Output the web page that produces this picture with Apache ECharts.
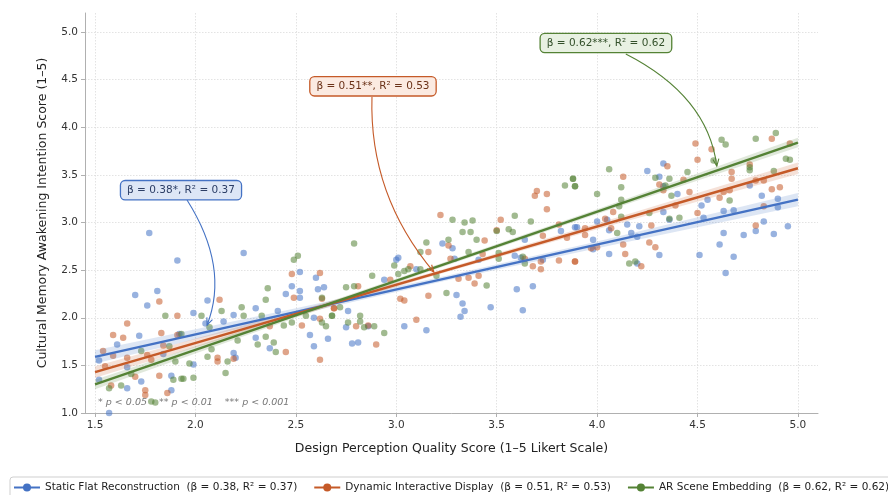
<!DOCTYPE html>
<html>
<head>
<meta charset="utf-8">
<script src="https://cdn.jsdelivr.net/npm/echarts@6/dist/echarts.min.js"></script>
<style>html,body{margin:0;padding:0;background:#fff}#c{width:888px;height:495px}</style>
</head>
<body>
<div id="c"></div>
<script>
// ---------- data ----------
const xTicks = [1.5, 2.0, 2.5, 3.0, 3.5, 4.0, 4.5, 5.0];
const yTicks = [1.0, 1.5, 2.0, 2.5, 3.0, 3.5, 4.0, 4.5, 5.0];
const seriesNames = [
  'Static Flat Reconstruction  (β = 0.38, R² = 0.37)',
  'Dynamic Interactive Display  (β = 0.51, R² = 0.53)',
  'AR Scene Embedding  (β = 0.62, R² = 0.62)'
];
const annotTexts = ['β = 0.38*, R² = 0.37', 'β = 0.51**, R² = 0.53', 'β = 0.62***, R² = 0.62'];
const footnote = '* p < 0.05    ** p < 0.01    *** p < 0.001';

const staticPts = [
  [1.77,2.89],[2.24,2.68],[1.91,2.60],[1.70,2.24],[1.81,2.28],[1.76,2.13],[1.99,2.05],[2.06,2.18],
  [1.72,1.81],[1.61,1.72],[1.52,1.55],[1.52,1.35],[1.66,1.48],[1.73,1.33],[1.66,1.26],[1.57,1.00],
  [1.88,1.39],[1.88,1.24],[1.99,1.51],[2.05,1.94],[2.14,1.96],[2.19,1.63],[2.20,1.58],[2.19,2.03],
  [2.30,2.10],[2.30,1.79],[2.41,2.07],[2.37,1.68],[2.45,2.25],[2.48,2.33],[2.52,2.21],[2.52,2.48],
  [2.52,2.28],[2.60,2.42],[2.61,2.30],[2.64,2.32],[2.59,2.00],[2.57,1.82],[2.59,1.70],[2.66,1.78],
  [1.92,1.83],[1.84,1.62],
  [3.00,2.61],[3.01,2.63],[2.94,2.40],[3.23,2.78],[3.28,2.73],[3.29,2.62],[3.10,2.51],[3.30,2.24],
  [3.33,2.15],[3.34,2.07],[3.32,2.01],[3.47,2.11],[3.41,2.61],[3.59,2.65],[3.62,2.63],[3.64,2.82],
  [3.60,2.30],[3.68,2.33],[3.63,2.08],[3.73,2.61],[3.82,2.91],[3.90,2.95],[2.76,2.07],[2.75,1.90],
  [2.78,1.73],[2.81,1.74],[3.04,1.91],[3.15,1.87],[2.86,1.91],
  [4.25,3.54],[4.33,3.62],[4.31,3.48],[4.33,3.38],[4.40,3.30],[4.55,3.24],[4.52,3.18],[4.36,3.03],
  [4.33,3.11],[4.53,3.05],[4.63,3.12],[4.68,3.13],[4.76,3.39],[4.82,3.28],[4.90,3.25],[4.90,3.16],
  [4.83,3.01],[4.79,2.91],[4.88,2.88],[4.95,2.96],[4.73,2.87],[4.63,2.89],[4.61,2.77],[4.68,2.64],
  [4.64,2.47],[4.51,2.66],[4.31,2.66],[4.20,2.57],[4.21,2.96],[4.20,2.85],[4.17,2.89],[4.15,2.98],
  [4.05,3.03],[4.06,2.92],[4.00,3.01],[4.06,2.67],[3.98,2.82],[3.98,2.72],[3.89,2.95]
];
const dynamicPts = [
  [1.82,2.17],[1.66,1.94],[1.59,1.82],[1.64,1.79],[1.54,1.65],[1.59,1.60],[1.66,1.58],[1.76,1.61],
  [1.78,1.56],[1.83,1.84],[1.84,1.71],[1.91,1.82],[1.91,2.02],[1.55,1.49],[1.70,1.38],[1.82,1.39],
  [1.75,1.24],[1.75,1.19],[1.86,1.21],[1.58,1.29],[2.12,2.19],[2.11,1.58],[2.11,1.54],[2.19,1.57],
  [2.45,1.64],[2.53,1.92],[2.48,2.46],[2.49,2.21],[2.62,2.47],[2.63,2.20],[2.62,1.56],[2.69,2.10],
  [2.62,1.99],[2.37,1.91],
  [3.22,3.08],[3.52,3.03],[3.50,2.92],[3.69,3.28],[3.70,3.33],[3.75,3.30],[3.75,3.14],[3.44,2.81],
  [3.43,2.67],[3.26,2.76],[3.16,2.69],[3.07,2.54],[3.27,2.62],[2.97,2.40],[2.81,2.33],[2.69,2.10],
  [3.02,2.20],[3.04,2.18],[3.16,2.23],[3.31,2.41],[3.36,2.42],[3.41,2.44],[3.39,2.36],[3.10,1.98],
  [2.90,1.72],[2.80,1.91],[2.86,1.92],[3.68,2.54],[3.72,2.51],[3.72,2.59],[3.81,2.60],[3.89,2.59],
  [3.64,2.62],[3.73,2.86],[3.85,2.84],[3.81,2.98],
  [4.49,3.83],[4.50,3.66],[4.57,3.77],[4.87,3.88],[4.96,3.83],[4.35,3.59],[4.13,3.48],[4.67,3.53],
  [4.67,3.46],[4.76,3.61],[4.31,3.40],[4.33,3.34],[4.43,3.45],[4.46,3.32],[4.61,3.26],[4.63,3.32],
  [4.66,3.34],[4.79,3.44],[4.83,3.44],[4.87,3.35],[4.91,3.37],[4.39,3.18],[4.50,3.10],[4.83,3.17],
  [4.79,2.97],[4.27,2.97],[4.26,2.79],[4.29,2.74],[4.08,3.11],[4.04,3.04],[4.07,2.94],[4.13,2.77],
  [4.14,2.67],[4.22,2.54],[3.94,2.94],[3.94,2.87],[3.97,2.73],[4.00,2.74],[3.89,2.59]
];
const arPts = [
  [1.85,2.02],[1.93,1.83],[1.73,1.65],[1.87,1.70],[1.90,1.54],[1.97,1.52],[1.89,1.35],[1.93,1.36],
  [1.94,1.36],[1.99,1.37],[1.63,1.29],[1.57,1.26],[1.68,1.41],[1.78,1.12],[1.80,1.11],[2.03,2.02],
  [2.07,1.90],[2.13,2.07],[2.23,2.11],[2.24,2.02],[2.36,2.31],[2.35,2.19],[2.33,2.02],[2.35,1.80],
  [2.31,1.72],[2.39,1.74],[2.40,1.64],[2.06,1.59],[2.08,1.67],[2.15,1.42],[2.16,1.54],[2.21,1.76],
  [2.44,1.92],[2.48,1.95],[2.49,2.61],[2.51,2.65],[2.55,2.02],[2.63,2.21],[2.63,1.95],[2.65,1.91],
  [2.68,2.02],
  [2.79,2.78],[3.28,3.03],[3.34,3.00],[3.38,3.02],[3.33,2.90],[3.37,2.90],[3.40,2.82],[3.26,2.82],
  [3.15,2.79],[3.12,2.69],[3.36,2.69],[3.50,2.91],[3.56,2.93],[3.58,2.90],[3.59,3.07],[3.67,3.01],
  [3.84,3.39],[3.88,3.46],[3.89,3.38],[3.51,2.68],[3.51,2.62],[3.63,2.64],[3.64,2.57],[2.99,2.55],
  [3.01,2.46],[3.04,2.49],[3.06,2.51],[3.12,2.51],[2.88,2.44],[2.75,2.32],[2.79,2.33],[3.20,2.44],
  [3.25,2.26],[3.45,2.34],[2.82,2.02],[2.82,1.96],[2.76,1.95],[2.84,1.90],[2.89,1.91],[2.94,1.84],
  [2.72,2.11],[2.68,2.02],
  [4.62,3.87],[4.64,3.82],[4.79,3.88],[4.89,3.94],[4.94,3.67],[4.96,3.66],[4.58,3.65],[4.45,3.53],
  [4.06,3.56],[3.88,3.46],[3.89,3.38],[4.29,3.47],[4.36,3.46],[4.34,3.39],[4.12,3.37],[4.00,3.30],
  [4.12,3.24],[4.11,3.17],[4.37,3.28],[4.66,3.23],[4.76,3.58],[4.76,3.55],[4.88,3.54],[4.12,3.06],
  [4.26,3.10],[4.36,3.04],[4.41,3.05],[4.10,2.89],[4.16,2.57],[4.19,2.59]
];
// fitted lines (endpoints) and confidence bands [x, lower, upper]
const staticFit = [[1.5,1.59],[5.0,3.24]];
const dynamicFit = [[1.5,1.43],[5.0,3.57]];
const arFit = [[1.5,1.30],[5.0,3.84]];
const staticBand = [[1.5,1.52,1.66],[2.5,2.03,2.10],[3.25,2.39,2.44],[4.0,2.73,2.80],[5.0,3.17,3.31]];
const dynamicBand = [[1.5,1.37,1.49],[2.5,2.01,2.07],[3.25,2.48,2.52],[4.0,2.93,2.99],[5.0,3.51,3.63]];
const arBand = [[1.5,1.25,1.35],[2.5,2.00,2.05],[3.25,2.55,2.59],[4.0,3.09,3.14],[5.0,3.79,3.89]];

// ---------- styles ----------
const colors = ['#4472C4', '#C55A28', '#548235'];
const boxFills = ['#dde6f6', '#fbeae1', '#e8f1e2'];
const textCols = ['#2c3e66', '#6b3218', '#33502a'];
// annotation geometry in data coords: box centre, arrow start, control, tip
const annots = [
  {box:[1.928,3.34], start:[1.958,3.236], ctrl:[2.17,2.53], tip:[2.058,1.924]},
  {box:[2.884,4.43], start:[2.879,4.318], ctrl:[2.864,3.29], tip:[3.187,2.48]},
  {box:[4.044,4.885], start:[4.143,4.769], ctrl:[4.551,4.33], tip:[4.596,3.593]}
];

const pts = [staticPts, dynamicPts, arPts];
const fits = [staticFit, dynamicFit, arFit];
const bands = [staticBand, dynamicBand, arBand];
const FONT = 'DejaVu Sans';

const chart = echarts.init(document.getElementById('c'), null, {renderer:'canvas'});

const series = [];
for (let i = 0; i < 3; i++) {
  series.push({
    type: 'scatter', name: 'pts' + i, data: pts[i], symbolSize: 6.5, z: 2,
    itemStyle: {color: colors[i], opacity: 0.55}, silent: true
  });
}
for (let i = 0; i < 3; i++) {
  const band = bands[i];
  series.push({
    type: 'custom', name: 'band' + i, z: 3, silent: true,
    data: [band[0]],
    renderItem: function (params, api) {
      const up = band.map(r => api.coord([r[0], r[2]]));
      const lo = band.map(r => api.coord([r[0], r[1]])).reverse();
      return {type: 'polygon', shape: {points: up.concat(lo)},
              style: {fill: colors[i], opacity: 0.18}};
    }
  });
}
for (let i = 0; i < 3; i++) {
  series.push({
    type: 'line', name: seriesNames[i], data: fits[i], z: 4,
    symbol: 'circle', symbolSize: 8, showSymbol: false,
    lineStyle: {color: colors[i], width: 2.4}, itemStyle: {color: colors[i]},
    silent: true
  });
}

const axisCommon = {
  axisLine: {show: true, lineStyle: {color: '#b0b0b0', width: 1}},
  axisTick: {show: true, length: 4, lineStyle: {color: '#b0b0b0'}},
  splitLine: {show: true, lineStyle: {color: '#dcdcdc', type: [1.5, 1.5], width: 0.8}},
  axisLabel: {color: '#333', fontSize: 10.5, fontFamily: FONT},
  nameTextStyle: {color: '#222', fontSize: 12.5, fontFamily: FONT}
};

chart.setOption({
  animation: false,
  backgroundColor: '#fff',
  grid: {left: 85, right: 70, top: 13, bottom: 82},
  xAxis: Object.assign({}, axisCommon, {
    type: 'value', min: 1.45, max: 5.1,
    name: 'Design Perception Quality Score (1–5 Likert Scale)',
    nameLocation: 'middle', nameGap: 29,
    axisLabel: Object.assign({}, axisCommon.axisLabel, {customValues: xTicks, formatter: v => v.toFixed(1), margin: 7}),
    axisTick: Object.assign({}, axisCommon.axisTick, {customValues: xTicks})
  }),
  yAxis: Object.assign({}, axisCommon, {
    type: 'value', min: 1.0, max: 5.2,
    name: 'Cultural Memory Awakening Intention Score (1–5)',
    nameLocation: 'middle', nameGap: 36,
    axisLabel: Object.assign({}, axisCommon.axisLabel, {customValues: yTicks, formatter: v => v.toFixed(1), margin: 7}),
    axisTick: Object.assign({}, axisCommon.axisTick, {customValues: yTicks})
  }),
  legend: {
    data: seriesNames, left: 10, bottom: -6, width: 1200,
    itemWidth: 26, itemHeight: 10, itemGap: 16,
    padding: [5, 8, 8, 3],
    borderColor: '#cfcfcf', borderWidth: 1, borderRadius: 3,
    textStyle: {fontSize: 10.5, fontFamily: FONT, color: '#222'}
  },
  series: series
});

// annotations & footnote
function px(p) { return chart.convertToPixel({gridIndex: 0}, p); }
const graphics = [];
annots.forEach((a, i) => {
  const b = px(a.box), s = px(a.start), c = px(a.ctrl), t = px(a.tip);
  graphics.push({
    type: 'bezierCurve', z: 50, silent: true,
    shape: {x1: s[0], y1: s[1], x2: t[0], y2: t[1], cpx1: c[0], cpy1: c[1]},
    style: {stroke: colors[i], lineWidth: 1.1, fill: null}
  });
  const dx = t[0] - c[0], dy = t[1] - c[1], L = Math.hypot(dx, dy);
  const ux = dx / L, uy = dy / L, hl = 7, hw = 3;
  graphics.push({
    type: 'polyline', z: 50, silent: true,
    shape: {points: [[t[0] - ux*hl - uy*hw, t[1] - uy*hl + ux*hw], [t[0], t[1]], [t[0] - ux*hl + uy*hw, t[1] - uy*hl - ux*hw]]},
    style: {stroke: colors[i], lineWidth: 1.1, fill: null}
  });
  graphics.push({
    type: 'text', z: 60, silent: true, x: b[0], y: b[1],
    style: {
      text: annotTexts[i], fontSize: 10.5, fontFamily: FONT, fill: textCols[i],
      align: 'center', verticalAlign: 'middle',
      backgroundColor: boxFills[i], borderColor: colors[i], borderWidth: 1.3, borderRadius: 4,
      padding: [4, 6, 3, 6]
    }
  });
});
const fp = px([1.515, 1.105]);
graphics.push({
  type: 'text', z: 60, silent: true, x: fp[0], y: fp[1],
  style: {text: footnote, fontSize: 9.5, fontStyle: 'italic', fontFamily: FONT, fill: '#777',
          align: 'left', verticalAlign: 'middle'}
});
chart.setOption({graphic: graphics});
</script>
</body>
</html>
